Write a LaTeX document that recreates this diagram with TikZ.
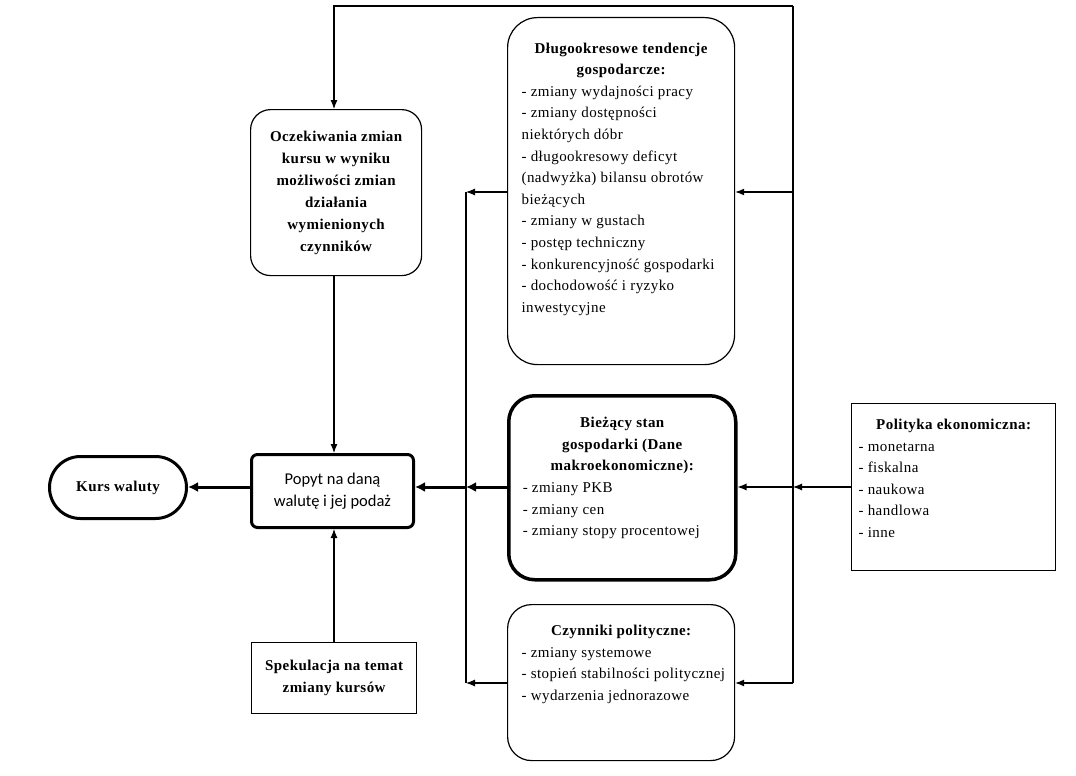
\documentclass[tikz,border=0pt]{standalone}
\usepackage{fontspec}
\setmainfont[LetterSpace=3]{Liberation Serif}
\newfontfamily\calibrifont{Carlito}
\usetikzlibrary{arrows.meta}
\newcommand\bxc[4]{\begin{minipage}[c][#2pt][t]{#1pt}\vspace*{#3pt}#4\end{minipage}}
\tikzset{
  every node/.style={font=\fontsize{15}{21.6}\selectfont},
  listbox/.style={draw, line width=1.2pt, inner xsep=14pt, inner ysep=0pt, anchor=north west},
  plainbox/.style={draw, line width=1.2pt, anchor=north west, align=center, font=\fontsize{15}{22}\selectfont\bfseries},
  ln/.style={line width=1.1pt},
  arr/.style={line width=1.1pt, -{Latex[length=9pt,width=7pt]}},
  tharr/.style={line width=3pt, -{Latex[length=10pt,width=10pt]}},
}
\begin{document}
\begin{tikzpicture}[x=1pt,y=-1pt]
\useasboundingbox (0,0) rectangle (1076,776);

% boxes
\node[plainbox, line width=3pt, rounded corners=31pt, minimum width=137pt, minimum height=62pt] (kurs) at (48,455) {Kurs waluty};
\node[plainbox, line width=3pt, rounded corners=6pt, minimum width=162pt, minimum height=73pt, font=\calibrifont\fontsize{16.5}{21.5}\selectfont] (popyt) at (250,453) {Popyt na daną\\walutę i jej podaż};
\node[plainbox, rounded corners=20pt, minimum width=171pt, minimum height=166pt] (ocz) at (250,109) {Oczekiwania zmian\\kursu w wyniku\\możliwości zmian\\działania\\wymienionych\\czynników};
\node[plainbox, minimum width=165pt, minimum height=71pt] (spek) at (251,642) {Spekulacja na temat\\zmiany kursów};

\node[listbox, rounded corners=30pt] (dlugo) at (507,17) {\bxc{199}{347}{25}{%
{\centering\bfseries Długookresowe tendencje\\gospodarcze:\par}
\raggedright
- zmiany wydajności pracy\\
- zmiany dostępności\\
niektórych dóbr\\
- długookresowy deficyt\\
(nadwyżka) bilansu obrotów\\
bieżących\\
- zmiany w gustach\\
- postęp techniczny\\
- konkurencyjność gospodarki\\
- dochodowość i ryzyko\\
inwestycyjne\par}};

\node[listbox, line width=3.5pt, rounded corners=26pt] (biez) at (507,394) {\bxc{199}{184}{21.5}{%
{\centering\bfseries Bieżący stan\\gospodarki (Dane\\makroekonomiczne):\par}
\raggedright
- zmiany PKB\\
- zmiany cen\\
- zmiany stopy procentowej\par}};

\node[listbox, rounded corners=24pt] (czyn) at (507,604) {\bxc{199}{156}{20.5}{%
{\centering\bfseries Czynniki polityczne:\par}
\raggedright
- zmiany systemowe\\
\makebox[0pt][l]{- stopień stabilności politycznej}\\
- wydarzenia jednorazowe\par}};

\node[listbox, inner xsep=7pt] (pol) at (851,403) {\bxc{190}{167}{15.5}{%
{\centering\bfseries Polityka ekonomiczna:\par}
\raggedright
- monetarna\\
- fiskalna\\
- naukowa\\
- handlowa\\
- inne\par}};

% junction coordinates
\coordinate (lt) at (466,192);
\coordinate (lm) at (466,487);
\coordinate (lb) at (466,683);
\coordinate (rtop) at (793,6);
\coordinate (rt) at (793,192);
\coordinate (rm) at (793,487);
\coordinate (rb) at (793,683);
\coordinate (ttop) at (334,6);

% connectors
\draw[ln] (lt) -- (lb);
\draw[ln] (rtop) -- (rb);
\draw[arr] (rtop) -- (ttop) -- (ttop |- ocz.north);
\draw[arr] (ocz.south -| ttop) -- (popyt.north -| ttop);
\draw[arr] (spek.north -| ttop) -- (popyt.south -| ttop);
\draw[arr] (dlugo.west |- lt) -- (lt);
\draw[arr] (czyn.west |- lb) -- (lb);
\draw[tharr] (biez.west |- lm) -- (lm);
\draw[tharr] (lm) -- (popyt.east |- lm);
\draw[tharr] (popyt.west |- lm) -- (kurs.east |- lm);
\draw[arr] (rt) -- (dlugo.east |- rt);
\draw[arr] (rm) -- (biez.east |- rm);
\draw[arr] (rb) -- (czyn.east |- rb);
\draw[arr] (pol.west |- rm) -- (rm);
\end{tikzpicture}
\end{document}
